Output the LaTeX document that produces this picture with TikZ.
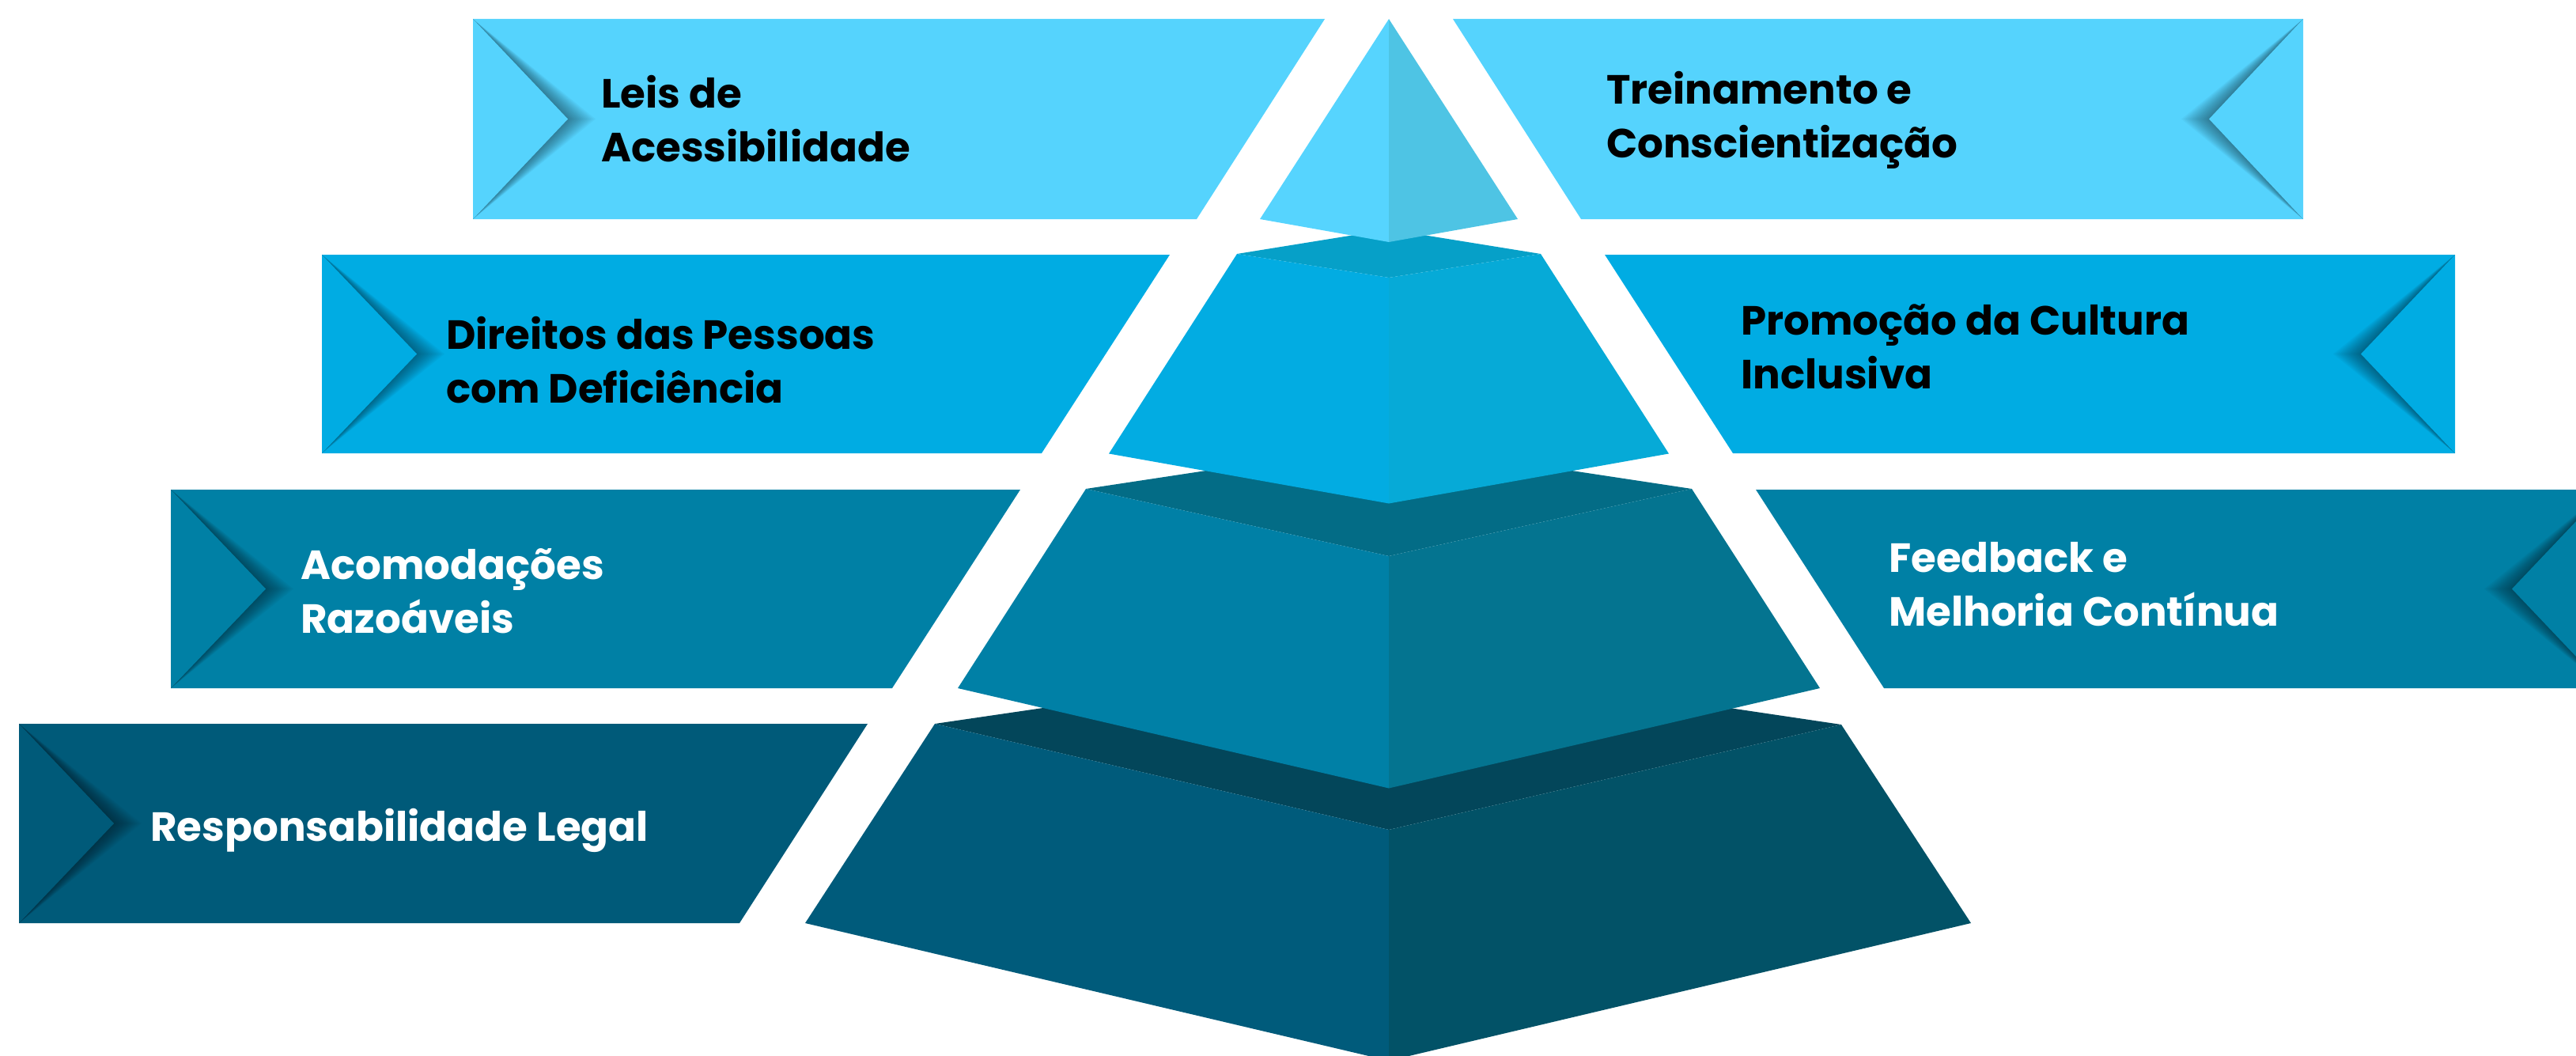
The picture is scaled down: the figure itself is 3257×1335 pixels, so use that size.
\documentclass[tikz,border=0pt]{standalone}
\usepackage{fontspec}
\setmainfont{Poppins}
\definecolor{rowA}{HTML}{55D3FD}
\definecolor{rowB}{HTML}{00ACE3}
\definecolor{rowC}{HTML}{0080A5}
\definecolor{rowD}{HTML}{005A79}
\definecolor{pAl}{HTML}{56D4FE}
\definecolor{pAr}{HTML}{4EC4E4}
\definecolor{pBl}{HTML}{02ACE2}
\definecolor{pBr}{HTML}{06AAD7}
\definecolor{pBt}{HTML}{06A0C8}
\definecolor{pCl}{HTML}{0080A6}
\definecolor{pCr}{HTML}{047490}
\definecolor{pCt}{HTML}{036C86}
\definecolor{pDl}{HTML}{005B7B}
\definecolor{pDr}{HTML}{025267}
\definecolor{pDt}{HTML}{03465A}
\newcommand\lbanner[5]{%
  \pgfmathsetmacro\bnBR{#2-162}%
  \pgfmathsetmacro\bnMid{(#3+#4)/2}%
  \pgfmathsetmacro\bnTip{#1+120}%
  \fill[#5] (#1,#3) -- (#2,#3) -- (\bnBR,#4) -- (#1,#4) -- cycle;
  \begin{scope}
    \clip (#1,#3) -- (#2,#3) -- (\bnBR,#4) -- (#1,#4) -- cycle;
    \foreach \k in {1,...,14}{\fill[black,opacity=0.03] (#1,#3) -- (\bnTip+2.5*\k,\bnMid) -- (#1,#4) -- cycle;}
    \fill[#5] (#1,#3) -- (\bnTip,\bnMid) -- (#1,#4) -- cycle;
  \end{scope}}
\newcommand\rbanner[5]{%
  \pgfmathsetmacro\bnBL{#1+162}%
  \pgfmathsetmacro\bnMid{(#3+#4)/2}%
  \pgfmathsetmacro\bnTip{#2-119}%
  \fill[#5] (#1,#3) -- (#2,#3) -- (#2,#4) -- (\bnBL,#4) -- cycle;
  \begin{scope}
    \clip (#1,#3) -- (#2,#3) -- (#2,#4) -- (\bnBL,#4) -- cycle;
    \foreach \k in {1,...,14}{\fill[black,opacity=0.03] (#2,#3) -- (\bnTip-2.5*\k,\bnMid) -- (#2,#4) -- cycle;}
    \fill[#5] (#2,#3) -- (\bnTip,\bnMid) -- (#2,#4) -- cycle;
  \end{scope}}
\tikzset{
  lbl/.style={anchor=base west, align=left, inner sep=0pt,
    font=\fontsize{51.5}{68}\selectfont\bfseries},
}
\begin{document}
\begin{tikzpicture}[x=1pt,y=-1pt]
\useasboundingbox (0,0) rectangle (3257,1335);
\clip (0,0) rectangle (3257,1335);
% banners
\lbanner{598}{1675}{24}{277}{rowA}
\rbanner{1837}{2912}{24}{277}{rowA}
\lbanner{407}{1479}{322}{573}{rowB}
\rbanner{2029}{3104}{322}{573}{rowB}
\lbanner{216}{1290}{619}{870}{rowC}
\rbanner{2220}{3295}{619}{870}{rowC}
\lbanner{24}{1097}{915}{1167}{rowD}
% pyramid tier 4
\fill[pDt] (1182,915) -- (1756,831) -- (2328,916) -- (1756,1049) -- cycle;
\fill[pDl] (1182,915) -- (1756,1049) -- (1756,1341) -- (1018,1167) -- cycle;
\fill[pDr] (1756,1049) -- (2328,916) -- (2492,1167) -- (1756,1341) -- cycle;
% tier 3
\fill[pCt] (1373,618) -- (1756,560) -- (2139,618) -- (1756,703) -- cycle;
\fill[pCl] (1373,618) -- (1756,703) -- (1756,996.5) -- (1211,870) -- cycle;
\fill[pCr] (1756,703) -- (2139,618) -- (2301,870) -- (1756,996.5) -- cycle;
% tier 2
\fill[pBt] (1564,321) -- (1756,290) -- (1948,321) -- (1756,351) -- cycle;
\fill[pBl] (1564,321) -- (1756,351) -- (1756,636.5) -- (1402,573.5) -- cycle;
\fill[pBr] (1756,351) -- (1948,321) -- (2110,573.5) -- (1756,636.5) -- cycle;
% tier 1
\fill[pAl] (1756,24) -- (1756,306) -- (1593,277) -- cycle;
\fill[pAr] (1756,24) -- (1919,277) -- (1756,306) -- cycle;
% labels (anchor = baseline of last line)
\node[lbl, text=black] (t1) at (760,204) {Leis de\\Acessibilidade};
\node[lbl, text=black] (t2) at (2031,199) {Treinamento e\\Conscientização};
\node[lbl, text=black] (t3) at (564,509) {Direitos das Pessoas\\com Deficiência};
\node[lbl, text=black] (t4) at (2201,491) {Promoção da Cultura\\Inclusiva};
\node[lbl, text=white] (t5) at (380,800) {Acomodações\\Razoáveis};
\node[lbl, text=white] (t6) at (2388,791) {Feedback e\\Melhoria Contínua};
\node[lbl, text=white] (t7) at (190,1063) {Responsabilidade Legal};
\end{tikzpicture}
\end{document}
